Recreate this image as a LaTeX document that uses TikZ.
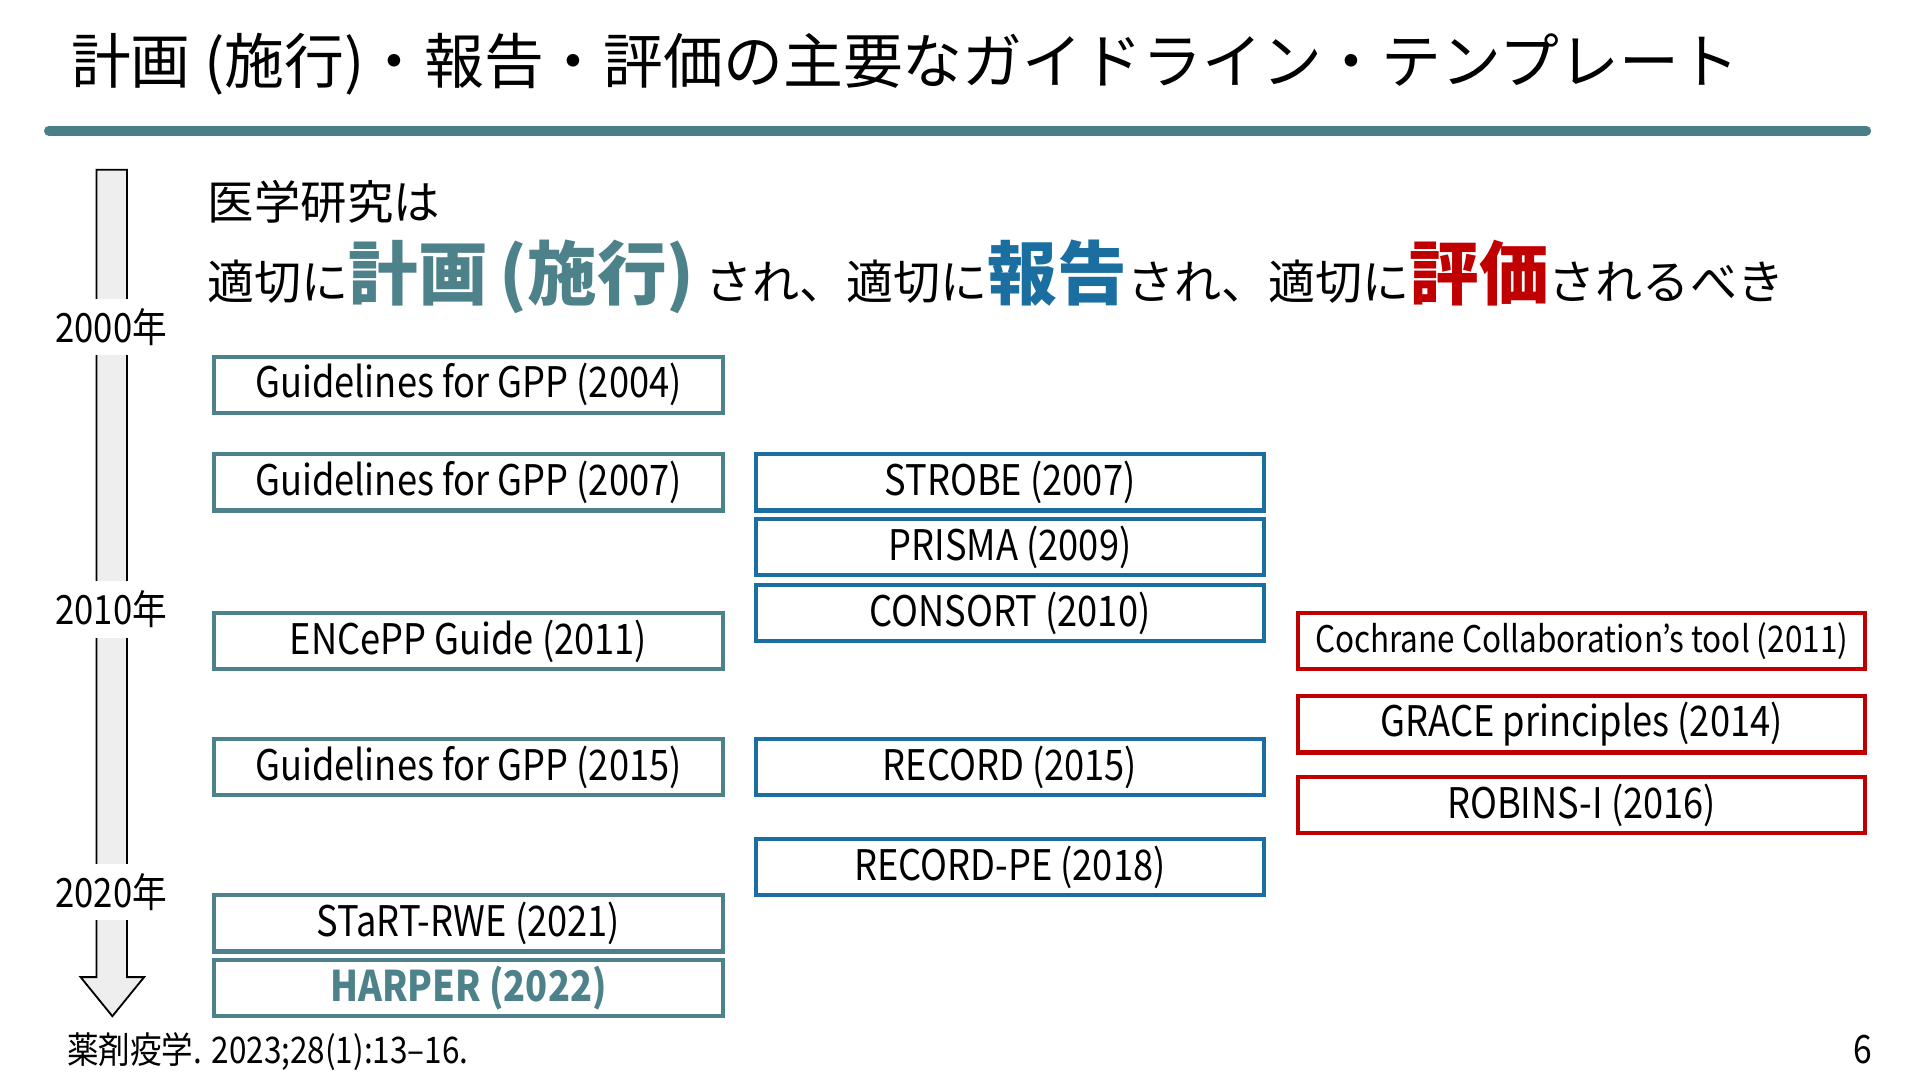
\documentclass[tikz,border=0pt]{standalone}
\usepackage{fontspec}
\setmainfont{Noto Sans CJK JP}
\newfontfamily\boxfont{Noto Sans CJK JP}[FakeStretch=0.86]
\usetikzlibrary{positioning}

\definecolor{barcol}{HTML}{4A7F88}
\definecolor{plancol}{HTML}{4E828B}
\definecolor{repcol}{HTML}{1B6EA0}
\definecolor{evalcol}{HTML}{C00000}
\definecolor{arrowgray}{HTML}{EEEEEE}

\begin{document}
\begin{tikzpicture}[x=1pt,y=-1pt,
    gbox/.style={draw,line width=3.5pt,minimum height=46pt,inner sep=0pt,
        font=\boxfont\fontsize{34.5}{38}\selectfont},
    planbox/.style={gbox,draw=plancol,minimum width=417pt},
    repbox/.style={gbox,draw=repcol,minimum width=416pt},
    evalbox/.style={gbox,draw=evalcol,minimum width=464pt},
    yearlab/.style={fill=white,inner sep=0pt,minimum height=46pt,
        font=\boxfont\fontsize{33}{36}\selectfont}]
            \useasboundingbox (0,0) rectangle (1572,884.25);

            % title
            \node[anchor=base west,inner sep=0pt] (title) at (58,68)
                {\fontsize{49}{52}\selectfont 計画 (施行)・報告・評価の主要なガイドライン・テンプレート};
            \draw[barcol,line width=8pt,line cap=round] (40,107) -- (1528,107);

            % timeline
            \draw[fill=arrowgray,line width=1.5pt] (79,139) -- (104,139) -- (104,800) -- (118,800)
                -- (92,832) -- (66,800) -- (79,800) -- cycle;
            \node[yearlab] (y2000) at (91,268) {2000年};
            \node[yearlab] (y2010) at (91,499) {2010年};
            \node[yearlab] (y2020) at (91,730) {2020年};

            % lead text
            \node[anchor=base west,inner sep=0pt] (lead) at (170,180)
                {\fontsize{38}{42}\selectfont 医学研究は};
            \node[anchor=base west,inner sep=0pt] (claim) at (170,245)
                {\fontsize{38.5}{42}\selectfont 適切に{\fontsize{57}{60}\selectfont\bfseries\color{plancol}計画\,(施行)} され、適切に{\fontsize{57}{60}\selectfont\bfseries\color{repcol}報告}され、適切に{\fontsize{57}{60}\selectfont\bfseries\color{evalcol}評価}されるべき};

            % planning
            \foreach \n/\y/\t in {p1/315/Guidelines for GPP (2004),p2/395/Guidelines for GPP (2007),
                p3/525/ENCePP Guide (2011),p4/628/Guidelines for GPP (2015),p5/756/STaRT-RWE (2021)}{
                \node[planbox] (\n) at (383.5,\y) {\t};
            }
            \node[planbox,text=plancol,font=\boxfont\fontsize{34.5}{38}\selectfont\bfseries] (p6) at (383.5,809) {HARPER (2022)};

            % reporting
            \foreach \n/\y/\t in {r1/395/STROBE (2007),r2/448/PRISMA (2009),r3/502/CONSORT (2010),
                r4/628/RECORD (2015),r5/710/RECORD-PE (2018)}{
                \node[repbox] (\n) at (827,\y) {\t};
            }

            % evaluation
            \node[evalbox,font=\boxfont\fontsize{30}{34}\selectfont] (e1) at (1295,525) {Cochrane Collaboration’s tool (2011)};
            \foreach \n/\y/\t in {e2/593/GRACE principles (2014),e3/659/ROBINS-I (2016)}{
                \node[evalbox] (\n) at (1295,\y) {\t};
            }

            \node[anchor=base west,inner sep=0pt] (ref) at (55,871)
                {\boxfont\fontsize{30}{34}\selectfont 薬剤疫学. 2023;28(1):13–16.};
            \node[anchor=base east,inner sep=0pt] (page) at (1533,871)
                {\boxfont\fontsize{32}{34}\selectfont 6};
\end{tikzpicture}
\end{document}
